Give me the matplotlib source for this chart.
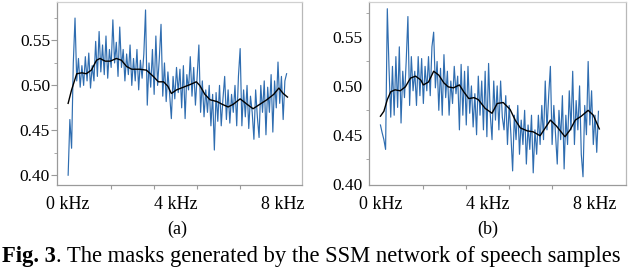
import matplotlib
matplotlib.use("Agg")
import matplotlib.pyplot as plt
from matplotlib.ticker import FixedLocator, NullFormatter

plt.rcParams['font.family'] = ['Liberation Serif', 'DejaVu Serif']

# frequency bins (every 2nd bin of 256)
bins = list(range(0, 256, 2))

mask_a = [0.400, 0.462, 0.430, 0.525, 0.575, 0.505, 0.530, 0.498, 0.522, 0.500,
          0.532, 0.505, 0.536, 0.497, 0.522, 0.505, 0.549, 0.510, 0.560, 0.515,
          0.545, 0.512, 0.555, 0.508, 0.540, 0.520, 0.573, 0.525, 0.548, 0.510,
          0.565, 0.520, 0.540, 0.505, 0.535, 0.512, 0.545, 0.500, 0.530, 0.505,
          0.540, 0.495, 0.528, 0.508, 0.535, 0.584, 0.478, 0.525, 0.498, 0.540,
          0.490, 0.555, 0.500, 0.530, 0.568, 0.488, 0.525, 0.482, 0.515, 0.490,
          0.463, 0.510, 0.485, 0.520, 0.492, 0.518, 0.475, 0.522, 0.463, 0.512,
          0.495, 0.532, 0.488, 0.520, 0.478, 0.510, 0.545, 0.470, 0.505, 0.465,
          0.495, 0.470, 0.500, 0.455, 0.490, 0.428, 0.492, 0.460, 0.500, 0.455,
          0.485, 0.510, 0.462, 0.495, 0.458, 0.490, 0.470, 0.500, 0.455, 0.510,
          0.541, 0.455, 0.495, 0.465, 0.500, 0.452, 0.488, 0.470, 0.440, 0.495,
          0.465, 0.442, 0.500, 0.470, 0.505, 0.445, 0.498, 0.470, 0.512, 0.448,
          0.505, 0.475, 0.526, 0.480, 0.510, 0.462, 0.505, 0.513]

smooth_a_x = [0, 4, 10, 16, 21, 27, 33, 37, 43, 49, 56, 62, 68, 74, 83, 91, 99,
              105, 111, 116, 120, 126, 134, 142, 149, 153, 159, 165, 173, 179,
              186, 192, 200, 208, 215, 223, 231, 239, 245, 250, 255]
smooth_a = [0.480, 0.495, 0.513, 0.514, 0.513, 0.517, 0.528, 0.530, 0.527, 0.527,
            0.530, 0.528, 0.521, 0.518, 0.518, 0.517, 0.510, 0.504, 0.504, 0.499,
            0.491, 0.495, 0.498, 0.501, 0.504, 0.500, 0.490, 0.484, 0.482, 0.479,
            0.476, 0.479, 0.485, 0.479, 0.474, 0.479, 0.484, 0.490, 0.497, 0.491,
            0.487]

mask_b = [0.460, 0.452, 0.445, 0.435, 0.579, 0.518, 0.468, 0.520, 0.470, 0.530,
          0.478, 0.540, 0.462, 0.515, 0.488, 0.525, 0.571, 0.480, 0.530, 0.495,
          0.515, 0.480, 0.530, 0.490, 0.528, 0.482, 0.520, 0.495, 0.530, 0.490,
          0.540, 0.555, 0.498, 0.525, 0.475, 0.518, 0.470, 0.532, 0.488, 0.515,
          0.470, 0.505, 0.482, 0.520, 0.492, 0.510, 0.455, 0.522, 0.470, 0.515,
          0.460, 0.520, 0.472, 0.500, 0.458, 0.492, 0.450, 0.510, 0.470, 0.505,
          0.455, 0.515, 0.448, 0.523, 0.470, 0.445, 0.505, 0.465, 0.500, 0.455,
          0.505, 0.468, 0.455, 0.490, 0.440, 0.480, 0.450, 0.413, 0.470, 0.445,
          0.480, 0.430, 0.465, 0.440, 0.475, 0.420, 0.460, 0.435, 0.470, 0.411,
          0.455, 0.430, 0.470, 0.440, 0.480, 0.445, 0.505, 0.455, 0.490, 0.520,
          0.440, 0.480, 0.450, 0.420, 0.475, 0.445, 0.490, 0.415, 0.470, 0.440,
          0.495, 0.455, 0.515, 0.440, 0.485, 0.455, 0.500, 0.430, 0.407, 0.480,
          0.450, 0.525, 0.460, 0.495, 0.440, 0.470, 0.432, 0.474]

smooth_b_x = [0, 4, 8, 12, 17, 23, 29, 35, 41, 47, 50, 56, 62, 68, 74, 79, 85,
              92, 97, 103, 109, 114, 122, 130, 136, 143, 151, 157, 163, 171,
              178, 186, 192, 198, 205, 215, 221, 227, 234, 242, 248, 255]
smooth_b = [0.469, 0.474, 0.486, 0.494, 0.496, 0.495, 0.499, 0.508, 0.510, 0.506,
            0.501, 0.504, 0.515, 0.511, 0.503, 0.499, 0.498, 0.501, 0.494, 0.487,
            0.488, 0.486, 0.477, 0.472, 0.482, 0.483, 0.476, 0.465, 0.457, 0.454,
            0.453, 0.449, 0.457, 0.465, 0.459, 0.448, 0.455, 0.465, 0.469, 0.475,
            0.470, 0.456]

xtick_pos = [0, 125, 250]
xtick_labels = ['0 kHz', '4 kHz', '8 kHz']
ytick_pos = [0.40, 0.45, 0.50, 0.55]
yminor_pos = [0.425, 0.475, 0.525, 0.575]

BLUE = '#2f6db0'
SPINE = '#9a9a9a'

fig = plt.figure(figsize=(6.4, 2.69), dpi=100)
axA = fig.add_axes([0.089, 0.312, 0.383, 0.681])
axB = fig.add_axes([0.577, 0.312, 0.401, 0.681])

panels = [
    (axA, mask_a, smooth_a_x, smooth_a, (-13, 272), (0.389, 0.593), 1),
    (axB, mask_b, smooth_b_x, smooth_b, (-13, 286), (0.3985, 0.586), 5),
]

for ax, noisy, sx, sy, xl, yl, ypad in panels:
    ax.plot(bins, noisy, color=BLUE, lw=0.85)
    ax.plot(sx, sy, color='black', lw=1.0)
    ax.set_xlim(*xl)
    ax.set_ylim(*yl)
    ax.set_xticks(xtick_pos)
    ax.set_xticklabels(xtick_labels)
    ax.xaxis.set_minor_locator(FixedLocator(range(0, 251, 50)))
    ax.xaxis.set_minor_formatter(NullFormatter())
    ax.set_yticks(ytick_pos)
    ax.set_yticklabels(['%.2f' % v for v in ytick_pos])
    ax.yaxis.set_minor_locator(FixedLocator(yminor_pos))
    ax.tick_params(axis='x', which='major', length=0, pad=8, labelsize=13)
    ax.tick_params(axis='x', which='minor', length=3, color=SPINE, width=0.8)
    ax.tick_params(axis='y', which='major', length=4 if ypad == 1 else 0,
                   color=SPINE, width=0.8, pad=ypad, labelsize=12.5)
    ax.tick_params(axis='y', which='minor', length=2.5, color=SPINE, width=0.6)
    for s in ax.spines.values():
        s.set_color(SPINE)
        s.set_linewidth(0.9)
    ax.spines['top'].set_color('#d0d0d0')
    ax.spines['right'].set_color('#b8b8b8')

fig.text(177 / 640, 1 - 229 / 269, '(a)', ha='center', va='center', fontsize=13)
fig.text(488 / 640, 1 - 229 / 269, '(b)', ha='center', va='center', fontsize=13)

cap_y = 1 - 262 / 269
t1 = fig.text(2 / 640, cap_y, 'Fig. 3', ha='left', va='baseline',
              fontsize=16.3, fontweight='bold')
fig.canvas.draw()
bb = t1.get_window_extent()
fig.text(bb.x1 / 640, cap_y, '. The masks generated by the SSM network of speech samples',
         ha='left', va='baseline', fontsize=16.3)

fig.savefig('out.png', dpi=100)
